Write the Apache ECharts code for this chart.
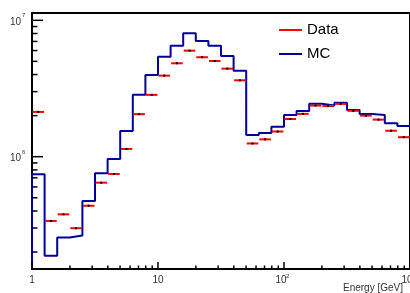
<!DOCTYPE html>
<html>
<head>
<meta charset="utf-8">
<title>Energy</title>
<script src="https://cdn.jsdelivr.net/npm/echarts@6/dist/echarts.min.js"></script>
<style>
html,body{margin:0;padding:0;background:#fff;}
#main{width:410px;height:293px;}
</style>
</head>
<body>
<div id="main"></div>
<script>
// bin edges in GeV, 10 bins per decade
var binEdges = [1, 1.259, 1.585, 1.995, 2.512, 3.162, 3.981, 5.012, 6.310, 7.943,
	10, 12.59, 15.85, 19.95, 25.12, 31.62, 39.81, 50.12, 63.10, 79.43,
	100, 125.9, 158.5, 199.5, 251.2, 316.2, 398.1, 501.2, 631.0, 794.3, 1000];
var dataValues = [2.13e6, 3.38e5, 3.78e5, 2.99e5, 4.37e5, 6.45e5, 7.47e5, 1.14e6, 2.05e6, 2.84e6,
	3.93e6, 4.84e6, 5.99e6, 5.36e6, 5.03e6, 4.42e6, 3.63e6, 1.25e6, 1.34e6, 1.53e6,
	1.89e6, 2.06e6, 2.37e6, 2.35e6, 2.44e6, 2.17e6, 2.00e6, 1.87e6, 1.55e6, 1.39e6];
var mcValues = [7.43e5, 1.88e5, 2.56e5, 2.64e5, 4.73e5, 7.55e5, 9.62e5, 1.54e6, 2.84e6, 3.97e6,
	5.41e6, 6.51e6, 8.03e6, 7.05e6, 6.51e6, 5.47e6, 4.27e6, 1.44e6, 1.49e6, 1.66e6,
	2.02e6, 2.16e6, 2.44e6, 2.37e6, 2.49e6, 2.20e6, 2.06e6, 2.02e6, 1.76e6, 1.68e6];
var xMajorTicks = [1, 10, 100, 1000];
var xTickLabels = ['1', '10', '10^2', '10^3'];
var xMinorTicks = [2, 3, 4, 5, 6, 7, 8, 9, 20, 30, 40, 50, 60, 70, 80, 90, 200, 300, 400, 500, 600, 700, 800, 900];
var yMajorTicks = [1e6, 1e7];
var yTickLabels = ['10^6', '10^7'];
var yMinorTicks = [2e5, 3e5, 4e5, 5e5, 6e5, 7e5, 8e5, 9e5, 2e6, 3e6, 4e6, 5e6, 6e6, 7e6, 8e6, 9e6];
var xMin = 1, xMax = 1000, yMin = 1.502e5, yMax = 1.131e7;

var chartEnergy = function(window){
	var FONT = '"Liberation Sans", Arial, sans-serif';
	var BLUE = '#000099';
	var RED = '#ff0000';

	// data points: red bar across the bin with a small black marker
	var _renderData = function(params, api){
		var v = api.value(2);
		var p1 = api.coord([api.value(0), v]);
		var p2 = api.coord([api.value(1), v]);
		var cx = (p1[0] + p2[0]) / 2;
		return {
			type: 'group',
			children: [
				{type: 'line', shape: {x1: p1[0] + 0.5, y1: p1[1], x2: p2[0] - 0.5, y2: p2[1]}, style: {stroke: RED, lineWidth: 2}},
				{type: 'rect', shape: {x: cx - 1, y: p1[1] - 1, width: 2, height: 2}, style: {fill: '#000'}}
			]
		};
	};
	// ticks drawn inside the frame, ROOT style
	var _renderTick = function(params, api){
		var p = api.coord([api.value(0), api.value(1)]);
		var len = api.value(2);
		var shape;
		if(api.value(3) === 0){
			shape = {x1: p[0], y1: p[1], x2: p[0], y2: p[1] - len};
		}else{
			shape = {x1: p[0], y1: p[1], x2: p[0] + len, y2: p[1]};
		}
		return {type: 'line', shape: shape, style: {stroke: '#000', lineWidth: 1.5}};
	};
	// tick labels with superscript exponents
	var _renderLabel = function(params, api){
		var p = api.coord([api.value(0), api.value(1)]);
		var isX = api.value(2) === 0;
		var txt = isX ? xTickLabels[api.value(3)] : yTickLabels[api.value(3)];
		var parts = txt.split('^');
		var base = {fill: '#333', fontSize: 10, fontFamily: FONT, verticalAlign: 'middle'};
		var sup = {fill: '#333', fontSize: 6, fontFamily: FONT, verticalAlign: 'middle', align: 'left'};
		var kids = [];
		if(isX){
			if(parts.length === 1){
				kids.push({type: 'text', x: p[0], y: p[1] + 11.3, style: echarts.util.extend({text: parts[0], align: 'center'}, base)});
			}else{
				kids.push({type: 'text', x: p[0] - 3, y: p[1] + 11.3, style: echarts.util.extend({text: parts[0], align: 'center'}, base)});
				kids.push({type: 'text', x: p[0] + 2, y: p[1] + 7, style: echarts.util.extend({text: parts[1]}, sup)});
			}
		}else{
			kids.push({type: 'text', x: p[0] - 11, y: p[1] + 1.8, style: echarts.util.extend({text: parts[0], align: 'right'}, base)});
			kids.push({type: 'text', x: p[0] - 10, y: p[1] - 4.7, style: echarts.util.extend({text: parts[1]}, sup)});
		}
		return {type: 'group', children: kids};
	};

	var _init = function(){
		var myChart = echarts.init(document.getElementById('main'), null, {renderer: 'canvas'});
		var i;
		var dataRows = [];
		for(i = 0; i < dataValues.length; i++){
			dataRows.push([binEdges[i], binEdges[i + 1], dataValues[i]]);
		}
		// step line through the left edges, closed at the last edge
		var mcRows = [[binEdges[0], yMin]];
		for(i = 0; i < mcValues.length; i++){
			mcRows.push([binEdges[i], mcValues[i]]);
		}
		mcRows.push([binEdges[binEdges.length - 1], mcValues[mcValues.length - 1]]);

		var tickRows = [];
		$each(xMajorTicks, function(v){ tickRows.push([v, yMin, 7, 0]); });
		$each(xMinorTicks, function(v){ tickRows.push([v, yMin, 3.5, 0]); });
		$each(yMajorTicks, function(v){ tickRows.push([xMin, v, 11, 1]); });
		$each(yMinorTicks, function(v){ tickRows.push([xMin, v, 5.5, 1]); });
		var labelRows = [];
		$each(xMajorTicks, function(v, k){ labelRows.push([v, yMin, 0, k]); });
		$each(yMajorTicks, function(v, k){ labelRows.push([xMin, v, 1, k]); });

		var option = {
			animation: false,
			backgroundColor: '#fff',
			grid: {left: 32, top: 13, width: 380, height: 256, show: true, borderColor: '#000', borderWidth: 2, backgroundColor: 'transparent'},
			xAxis: {
				type: 'log', logBase: 10, min: xMin, max: xMax,
				axisLine: {show: false}, axisTick: {show: false}, axisLabel: {show: false}, splitLine: {show: false}
			},
			yAxis: {
				type: 'log', logBase: 10, min: yMin, max: yMax,
				axisLine: {show: false}, axisTick: {show: false}, axisLabel: {show: false}, splitLine: {show: false}
			},
			legend: {
				orient: 'vertical', left: 274, top: 17, itemWidth: 23, itemHeight: 2, itemGap: 8,
				textStyle: {fontSize: 15, fontFamily: FONT, color: '#000', lineHeight: 16},
				data: [
					{name: 'Data', icon: 'rect', itemStyle: {color: RED}},
					{name: 'MC', icon: 'rect', itemStyle: {color: BLUE}}
				]
			},
			graphic: [{
				type: 'text', right: 7, top: 283,
				style: {text: 'Energy [GeV]', fontSize: 10, fontFamily: FONT, fill: '#333'}
			}],
			series: [{
				name: 'MC',
				type: 'line',
				step: 'end',
				showSymbol: false,
				data: mcRows,
				itemStyle: {color: BLUE},
				lineStyle: {color: BLUE, width: 2},
				z: 2
			}, {
				name: 'Data',
				type: 'custom',
				renderItem: _renderData,
				encode: {x: [0, 1], y: 2},
				itemStyle: {color: RED},
				data: dataRows,
				z: 3
			}, {
				name: 'ticks',
				type: 'custom',
				renderItem: _renderTick,
				encode: {x: 0, y: 1},
				data: tickRows,
				silent: true,
				z: 4
			}, {
				name: 'labels',
				type: 'custom',
				renderItem: _renderLabel,
				encode: {x: 0, y: 1},
				data: labelRows,
				silent: true,
				z: 4
			}]
		};
		myChart.setOption(option);
	};
	var $each = function(arr, fn){
		for(var k = 0; k < arr.length; k++){ fn(arr[k], k); }
	};
	return {
		init: _init
	};
}(window);
chartEnergy.init();
</script>
</body>
</html>
